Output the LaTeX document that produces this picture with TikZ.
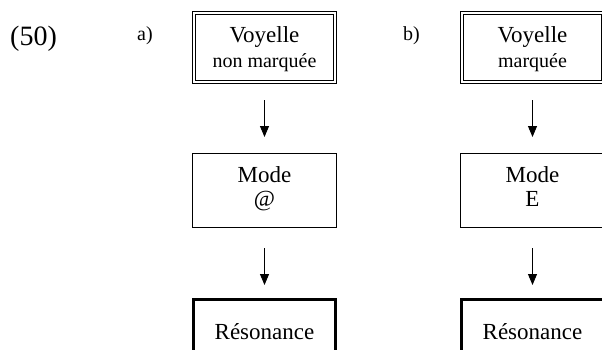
\documentclass[tikz,border=0pt]{standalone}
\usepackage{fontspec}
\setmainfont{Liberation Serif}
\usetikzlibrary{arrows.meta}
\newcommand{\hstrut}{\rule{0pt}{18.3pt}}
\newcommand{\dstrut}{\rule[-8pt]{0pt}{8pt}}
\begin{document}
\begin{tikzpicture}[x=1pt,y=-1pt,
  topbox/.style={draw, double, line width=1pt, double distance=2pt, minimum width=141pt, minimum height=69pt, inner sep=0pt, outer sep=0pt, align=center, font=\fontsize{23}{25}\selectfont},
  modebox/.style={draw, line width=1pt, minimum width=144pt, minimum height=74pt, inner sep=0pt, outer sep=0pt, align=center, font=\fontsize{23}{24}\selectfont},
  resbox/.style={draw, line width=3pt, minimum width=142pt, minimum height=66pt, inner sep=0pt, outer sep=0pt, font=\fontsize{23}{25}\selectfont},
  arr/.style={line width=1pt, -{Triangle[length=11pt,width=9pt]}},
  lab/.style={anchor=base west, inner sep=0pt, font=\fontsize{20}{24}\selectfont}
]
\useasboundingbox (0,0) rectangle (602,349);
\clip (0,0) rectangle (602,349);

\node[anchor=base west, inner sep=0pt, font=\fontsize{28}{30}\selectfont] (num) at (10,45) {(50)};
\node[lab] (la) at (137,40) {a)};
\node[lab] (lb) at (403,40) {b)};

% column a
\node[topbox] (va) at (264.5,47.5) {\hstrut Voyelle\\{\fontsize{20}{25}\selectfont non marquée}};
\node[modebox] (ma) at (264.5,190.5) {Mode\\@\dstrut};
\node[resbox] (ra) at (264.5,332) {Résonance};
\draw[arr, shorten <=18pt, shorten >=16.5pt] (va.south) -- (ma.north);
\draw[arr, shorten <=20.5pt, shorten >=14pt] (ma.south) -- (ra.north);

% column b
\node[topbox] (vb) at (532.5,47.5) {\hstrut Voyelle\\{\fontsize{20}{25}\selectfont marquée}};
\node[modebox] (mb) at (532.5,190.5) {Mode\\E\dstrut};
\node[resbox] (rb) at (532.5,332) {Résonance};
\draw[arr, shorten <=18pt, shorten >=16.5pt] (vb.south) -- (mb.north);
\draw[arr, shorten <=20.5pt, shorten >=14pt] (mb.south) -- (rb.north);
\end{tikzpicture}
\end{document}
